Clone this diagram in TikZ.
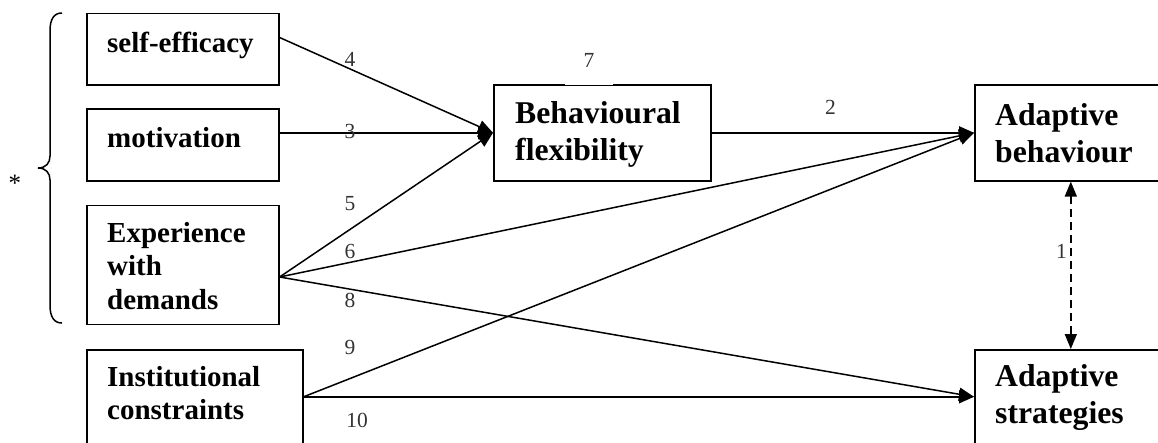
\documentclass[tikz,border=0pt]{standalone}
\usepackage{fontspec}
\setmainfont{Liberation Serif}
\usetikzlibrary{arrows.meta}
\begin{document}
\begin{tikzpicture}[x=1pt,y=-1pt,
  box/.style={draw, line width=1.6pt, inner sep=0pt, anchor=north west},
  txtl/.style={anchor=base west, inner sep=0pt, font=\bfseries\fontsize{29}{33.5}\selectfont},
  txtr/.style={anchor=base west, inner sep=0pt, font=\bfseries\fontsize{31.7}{37}\selectfont},
  lbl/.style={anchor=base, inner sep=0pt, text=black!80, font=\fontsize{21.5}{23}\selectfont},
  arr/.style={-{Triangle[length=15pt,width=13pt]}, line width=1.5pt},
  darr/.style={{Triangle[length=15pt,width=12pt]}-{Triangle[length=15pt,width=12pt]}, line width=1.5pt, dash pattern=on 8pt off 5pt}
]
\useasboundingbox (0,0) rectangle (1158,442);
\clip (0,0) rectangle (1158,442);

% boxes
\node[box, minimum width=192pt, minimum height=71.6pt] (se) at (86,12.7) {};
\node[box, minimum width=192pt, minimum height=72pt] (mo) at (86,108.3) {};
\node[box, minimum width=192pt, minimum height=119pt] (ex) at (86,204.7) {};
\node[box, minimum width=216pt, minimum height=94pt] (in) at (86,349) {};
\node[box, minimum width=217pt, minimum height=96pt] (bf) at (493,84) {};
\node[box, minimum width=192pt, minimum height=96pt] (ab) at (974,84) {};
\node[box, minimum width=192pt, minimum height=94pt] (as) at (974,349) {};

% texts
\node[txtl] (se-t) at (107,52.4) {self-efficacy};
\node[txtl] (mo-t) at (107,147) {motivation};
\node[txtl] (ex-t) at (107,242) {\parbox[t]{170pt}{Experience\\with\\demands}};
\node[txtl] (in-t) at (107,386) {\parbox[t]{190pt}{Institutional\\constraints}};
\node[txtr] (bf-t) at (515,123.3) {\parbox[t]{190pt}{Behavioural\\flexibility}};
\node[txtr] (ab-t) at (995,125) {\parbox[t]{170pt}{Adaptive\\behaviour}};
\node[txtr] (as-t) at (995,386.7) {\parbox[t]{170pt}{Adaptive\\strategies}};

% label 7 with its white frame cutting the box edge
\node[text=black!80, font=\fontsize{21.5}{23}\selectfont, fill=white, inner sep=0pt,
      minimum width=48pt, minimum height=50pt] (n7) at (589,60) {7};

% brace and asterisk
\draw[line width=1.5pt] (62,13) .. controls (54,13) and (50,19) .. (50,31) -- (50,156)
  .. controls (50,163) and (46,168) .. (38,168)
  .. controls (46,168) and (50,173) .. (50,180) -- (50,305)
  .. controls (50,317) and (54,323) .. (62,323);
\node[anchor=base, inner sep=0pt, font=\fontsize{25}{27}\selectfont] (star) at (15,191) {*};

% connectors
\coordinate (seo) at ([yshift=11.8pt]se.east);
\coordinate (moo) at ([yshift=12.3pt]mo.east);
\coordinate (exo) at ([yshift=-12pt]ex.east);
\draw[arr] (seo) -- (bf.west);
\draw[arr] (moo) -- (bf.west);
\draw[arr] (exo) -- (bf.west);
\draw[arr] (exo) -- (ab.west);
\draw[arr] (exo) -- (as.west);
\draw[arr] (in.east) -- (ab.west);
\draw[arr] (in.east) -- (as.west);
\draw[arr] (bf.east) -- (ab.west);
\draw[darr] (ab.south) -- (as.north);

% numeric labels
\node[lbl] (l4) at (350,66) {4};
\node[lbl] (l3) at (350,138) {3};
\node[lbl] (l5) at (350,210) {5};
\node[lbl] (l6) at (350,258) {6};
\node[lbl] (l8) at (350,307) {8};
\node[lbl] (l9) at (350,354) {9};
\node[lbl] (l10) at (357,427) {10};
\node[lbl] (l2) at (830.5,114) {2};
\node[lbl] (l1) at (1061.5,258) {1};
\end{tikzpicture}
\end{document}
